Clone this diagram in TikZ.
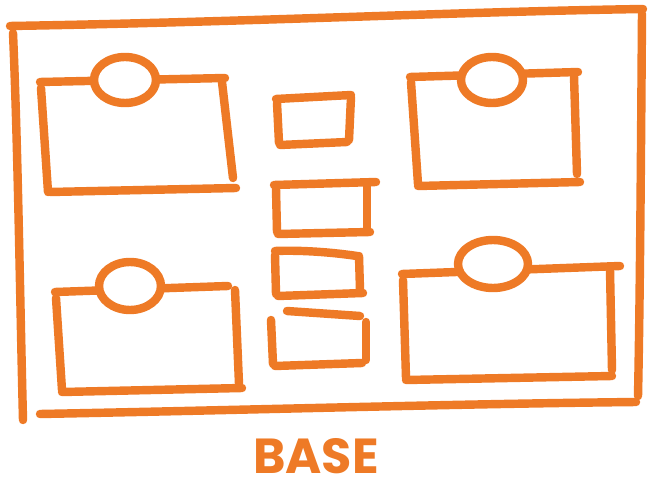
\documentclass[tikz,border=0pt]{standalone}
\usepackage{fontspec}
\setsansfont{Poppins}
\usepackage{tikz}
\definecolor{myorange}{RGB}{238,122,38}
\tikzset{
  stroke/.style={draw=myorange, line width=4.8pt, line cap=round, line join=round},
  knob/.style={stroke, fill=white},
  label/.style={text=myorange, inner sep=0pt, font=\sffamily\bfseries\fontsize{28}{28}\selectfont}
}

\begin{document}
\begin{tikzpicture}[x=0.02cm, y=-0.02cm]
  \useasboundingbox (0,0) rectangle (649,486);

  % Frame
  \draw[stroke] (10,26) .. controls (250,22) and (450,12) .. (643,9);
  \draw[stroke] (13,33) .. controls (18,150) and (20,300) .. (23,420);
  \draw[stroke] (40,414) .. controls (250,410) and (450,404) .. (636,402);
  \draw[stroke] (642,14) .. controls (641,150) and (640,300) .. (638,396);

  % Top left
  \draw[stroke] (40,82) -- (225,78);
  \draw[stroke] (41,88) -- (48,192);
  \draw[stroke] (50,192) -- (236,188);
  \draw[stroke] (222,82) -- (233,178);
  \draw[knob] (125,80) ellipse [x radius=31, y radius=23];

  % Top right
  \draw[stroke] (410,77) -- (578,72);
  \draw[stroke] (411,82) -- (418,184);
  \draw[stroke] (418,186) -- (580,182);
  \draw[stroke] (574,76) -- (577,174);
  \draw[knob] (492,80) ellipse [x radius=31, y radius=23];

  % Bottom left
  \draw[stroke] (55,292) -- (228,286);
  \draw[stroke] (56,298) -- (62,390);
  \draw[stroke] (62,392) -- (242,388);
  \draw[stroke] (235,290) -- (239,384);
  \draw[knob] (130,286) ellipse [x radius=31, y radius=24];

  % Bottom right
  \draw[stroke] (402,274) -- (620,266);
  \draw[stroke] (403,280) -- (406,378);
  \draw[stroke] (406,380) -- (612,376);
  \draw[stroke] (610,270) -- (612,370);
  \draw[knob] (493,264) ellipse [x radius=35, y radius=24];

  % Middle
  \draw[stroke] (276,99) -- (351,95);
  \draw[stroke] (277,103) -- (279,143);
  \draw[stroke] (280,145) -- (347,142);
  \draw[stroke] (351,97) -- (349,140);

  \draw[stroke] (274,185) -- (376,182);
  \draw[stroke] (276,189) -- (277,232);
  \draw[stroke] (278,234) -- (370,232);
  \draw[stroke] (367,186) -- (367,228);

  \draw[stroke] (275,251) .. controls (300,250) and (330,252) .. (357,256);
  \draw[stroke] (275,255) -- (276,294);
  \draw[stroke] (278,296) -- (363,293);
  \draw[stroke] (359,256) -- (360,290);

  \draw[stroke] (287,311) -- (360,316);
  \draw[stroke] (271,320) -- (273,364);
  \draw[stroke] (275,366) -- (362,363);
  \draw[stroke] (366,322) -- (366,360);

  % Caption
  \node[label] (base) at (316,456) {BASE};
\end{tikzpicture}
\end{document}
